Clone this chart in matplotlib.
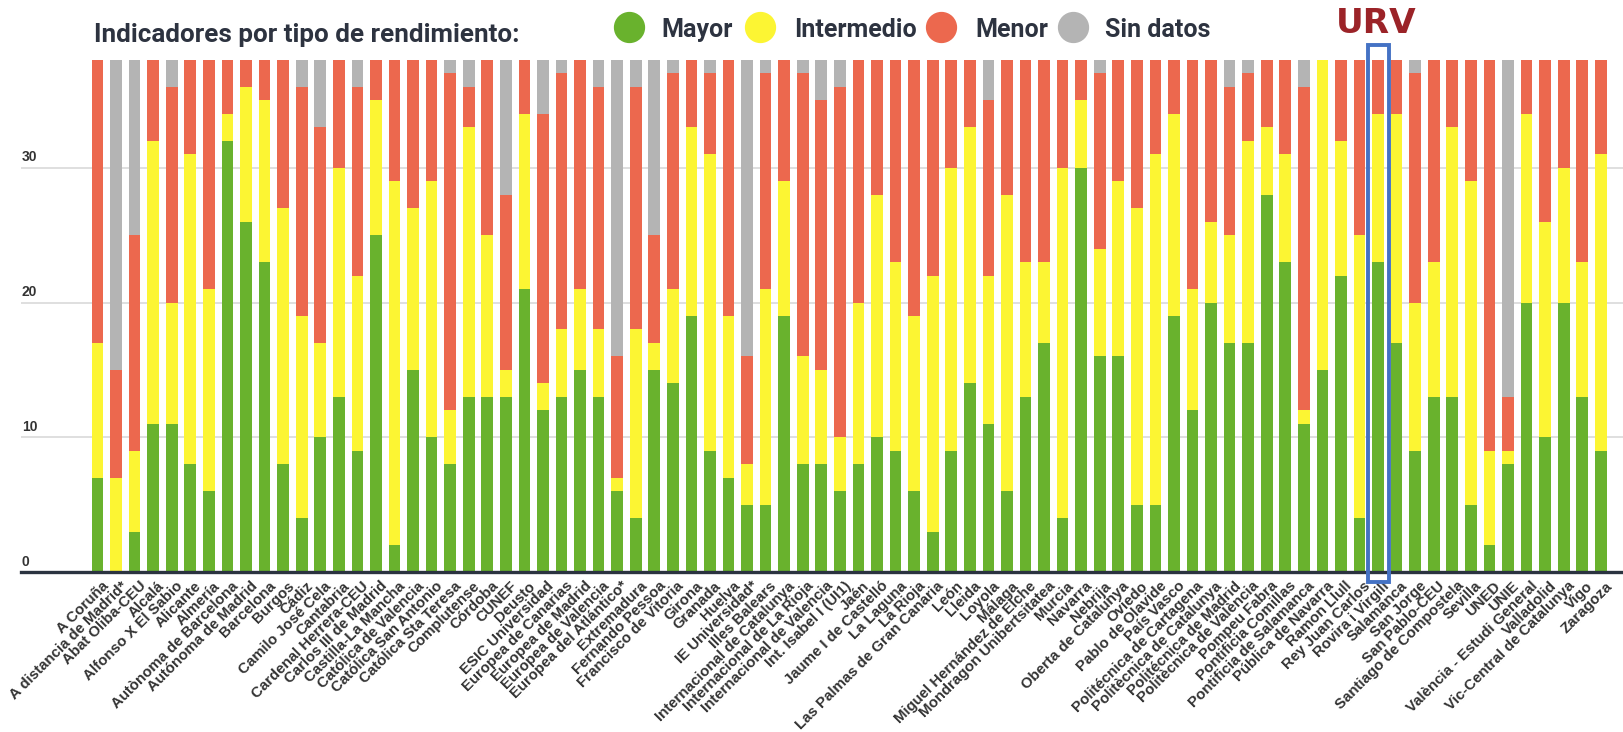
import matplotlib.pyplot as plt
from matplotlib.lines import Line2D
from matplotlib.patches import Rectangle
from matplotlib.transforms import ScaledTranslation
import numpy as np

universidades = [
    "A Coruña", "A distancia de Madrid*", "Abat Oliba-CEU", "Alcalá", "Alfonso X El Sabio",
    "Alicante", "Almería", "Autònoma de Barcelona", "Autónoma de Madrid", "Barcelona",
    "Burgos", "Cádiz", "Camilo José Cela", "Cantabria", "Cardenal Herrera-CEU",
    "Carlos III de Madrid", "Castilla-La Mancha", "Católica de Valencia", "Católica San Antonio",
    "Católica Sta Teresa", "Complutense", "Córdoba", "CUNEF", "Deusto", "ESIC Universidad",
    "Europea de Canarias", "Europea de Madrid", "Europea de Valencia", "Europea del Atlántico*",
    "Extremadura", "Fernando Pessoa", "Francisco de Vitoria", "Girona", "Granada", "Huelva",
    "IE Universidad*", "Illes Balears", "Internacional de Catalunya", "Internacional de La Rioja",
    "Internacional de Valencia", "Int. Isabel I (UI1)", "Jaén", "Jaume I de Castelló",
    "La Laguna", "La Rioja", "Las Palmas de Gran Canaria", "León", "Lleida", "Loyola", "Málaga",
    "Miguel Hernández de Elche", "Mondragon Unibertsitatea", "Murcia", "Navarra", "Nebrija",
    "Oberta de Catalunya", "Oviedo", "Pablo de Olavide", "País Vasco", "Politécnica de Cartagena",
    "Politècnica de Catalunya", "Politécnica de Madrid", "Politècnica de València", "Pompeu Fabra",
    "Pontificia Comillas", "Pontificia de Salamanca", "Pública de Navarra", "Ramon Llull",
    "Rey Juan Carlos", "Rovira i Virgili", "Salamanca", "San Jorge", "San Pablo-CEU",
    "Santiago de Compostela", "Sevilla", "UNED", "UNIE", "València - Estudi General",
    "Valladolid", "Vic-Central de Catalunya", "Vigo", "Zaragoza",
]

mayor = [7, 0, 3, 11, 11, 8, 6, 32, 26, 23, 8, 4, 10, 13, 9, 25, 2, 15, 10, 8, 13, 13, 13, 21,
         12, 13, 15, 13, 6, 4, 15, 14, 19, 9, 7, 5, 5, 19, 8, 8, 6, 8, 10, 9, 6, 3, 9, 14, 11, 6,
         13, 17, 4, 30, 16, 16, 5, 5, 19, 12, 20, 17, 17, 28, 23, 11, 15, 22, 4, 23, 17, 9, 13,
         13, 5, 2, 8, 20, 10, 20, 13, 9]
intermedio = [10, 7, 6, 21, 9, 23, 15, 2, 10, 12, 19, 15, 7, 17, 13, 10, 27, 12, 19, 4, 20, 12,
              2, 13, 2, 5, 6, 5, 1, 14, 2, 7, 14, 22, 12, 3, 16, 10, 8, 7, 4, 12, 18, 14, 13, 19,
              21, 19, 11, 22, 10, 6, 26, 5, 8, 13, 22, 26, 15, 9, 6, 8, 15, 5, 8, 1, 23, 10, 21,
              11, 17, 11, 10, 20, 24, 7, 1, 14, 16, 10, 10, 22]
menor = [21, 8, 16, 6, 16, 7, 17, 4, 2, 3, 11, 17, 16, 8, 14, 3, 9, 11, 9, 25, 3, 13, 13, 4, 20,
         19, 17, 18, 9, 18, 8, 16, 5, 6, 19, 8, 16, 9, 21, 20, 26, 18, 10, 15, 19, 16, 8, 5, 13,
         10, 15, 15, 8, 3, 13, 9, 11, 7, 4, 17, 12, 11, 5, 5, 7, 24, 0, 6, 13, 4, 4, 17, 15, 5,
         9, 29, 4, 4, 12, 8, 15, 7]
sin_datos = [0, 23, 13, 0, 2, 0, 0, 0, 0, 0, 0, 2, 5, 0, 2, 0, 0, 0, 0, 1, 2, 0, 10, 0, 4, 1, 0,
             2, 22, 2, 13, 1, 0, 1, 0, 22, 1, 0, 1, 3, 2, 0, 0, 0, 0, 0, 0, 0, 3, 0, 0, 0, 0, 0, 1,
             0, 0, 0, 0, 0, 0, 2, 1, 0, 0, 2, 0, 0, 0, 0, 0, 1, 0, 0, 0, 0, 25, 0, 0, 0, 0, 0]

series = ["Mayor", "Intermedio", "Menor", "Sin datos"]
colores = ["#69b22d", "#fcf533", "#ec684e", "#b4b4b4"]
destacada = "Rovira i Virgili"

texto = "#2d3340"
W, H = 1624, 732
fig = plt.figure(figsize=(W / 100, H / 100), dpi=100)
ax = fig.add_axes([20.7 / W, (H - 572) / H, 1 - 20.7 / W, (572 - 60) / H])

x = np.arange(len(universidades))
abajo = np.zeros(len(x))
for vals, col in zip([mayor, intermedio, menor, sin_datos], colores):
    ax.bar(x, vals, bottom=abajo, width=0.63, color=col, zorder=2)
    abajo += np.array(vals)

ax.set_xlim(-4.14, 82.25)
ax.set_ylim(0, 38)
for s in ax.spines.values():
    s.set_visible(False)

for v in [10, 20, 30]:
    ax.axhline(v, color="#d6d6d6", lw=1.1, zorder=1)
ax.axhline(0, color="#2b3340", lw=2.4, zorder=3, clip_on=False)

ax.set_yticks([])
for v in [0, 10, 20, 30]:
    ax.annotate(str(v), xy=(0.0006, v), xycoords=("axes fraction", "data"),
                xytext=(0, 2.5), textcoords="offset points", ha="left", va="bottom",
                fontsize=10, fontweight="bold", color="#333333", family="Liberation Sans")

ax.set_xticks(x)
ax.set_xticklabels(universidades, rotation=45, ha="right", va="top", rotation_mode="anchor",
                   fontsize=10.8, fontweight="bold", color="#333333", family="Liberation Sans")
ax.tick_params(axis="x", length=0, pad=5)
desplaza = ScaledTranslation(4 / 100, 0, fig.dpi_scale_trans)
for lab in ax.get_xticklabels():
    lab.set_transform(lab.get_transform() + desplaza)

# resaltado URV
i = universidades.index(destacada)
ax.add_patch(Rectangle((i - 0.57, -0.74), 1.14, 39.86, fill=False, edgecolor="#4472c4",
                       lw=2.8, zorder=5, clip_on=False))
fig.text(1376 / W, 1 - 33.3 / H, "URV", ha="center", va="baseline", fontsize=24.7,
         fontweight="bold", color="#9b2328", family="DejaVu Sans")

fig.text(94 / W, 1 - 41.7 / H, "Indicadores por tipo de rendimiento:", ha="left",
         va="baseline", fontsize=18.7, fontweight="bold", color=texto, family="Roboto")

# leyenda
circ_x = [629, 760, 941, 1073]
txt_x = [661, 794, 975, 1105]
for cx, tx, lab, col in zip(circ_x, txt_x, series, colores):
    fig.add_artist(Line2D([cx / W], [1 - 26.7 / H], marker="o", markersize=21.5, color=col,
                          linestyle="none", transform=fig.transFigure))
    fig.text(tx / W, 1 - 36.7 / H, lab, ha="left", va="baseline", fontsize=18,
             fontweight="bold", color=texto, family="Roboto")

fig.savefig("out.png", dpi=100, facecolor="white")
